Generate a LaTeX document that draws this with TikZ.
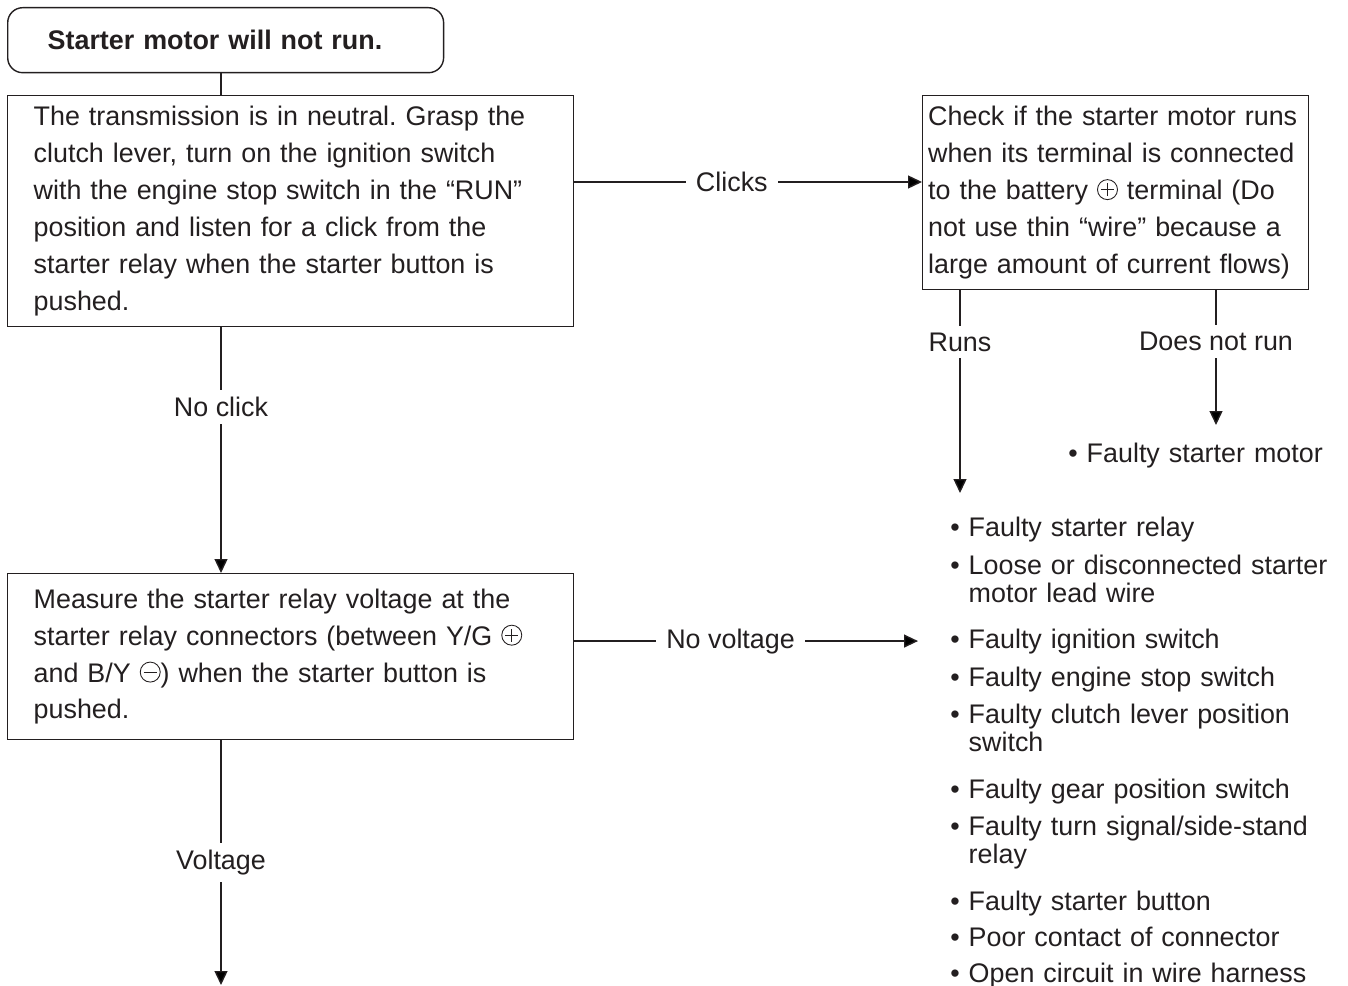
\documentclass[tikz,border=0pt]{standalone}
\usepackage{fontspec}
\setmainfont{Liberation Sans}
\usetikzlibrary{arrows.meta,positioning}
\definecolor{StInk}{HTML}{231F20}
\newcommand{\plusmark}{\tikz[baseline=-0.2cm,line width=0.5pt]{%
  \draw[StInk] (0,0) circle (0.2cm);
  \draw[StInk] (-0.13cm,0) -- (0.13cm,0) (0,-0.13cm) -- (0,0.13cm);}}
\newcommand{\minusmark}{\tikz[baseline=-0.2cm,line width=0.5pt]{%
  \draw[StInk] (0,0) circle (0.2cm);
  \draw[StInk] (-0.13cm,0) -- (0.13cm,0);}}
\frenchspacing
\tikzset{
  chartbox/.style={draw=StInk,text=StInk,line width=0.8pt,anchor=north west,
    align=left,font=\fontsize{15.3}{21}\selectfont},
  lbl/.style={fill=white,text=StInk,inner xsep=0.2cm,inner ysep=0.14cm,
    font=\fontsize{15.3}{21}\selectfont},
  faultitem/.style={anchor=base west,inner sep=0pt,text=StInk,align=left,
    text width=8cm,font=\fontsize{15.3}{16.4}\selectfont},
  flowline/.style={draw=StInk,line width=0.8pt},
  flowarrow/.style={flowline,-{Triangle[length=0.28cm,width=0.26cm]}}
}

\begin{document}
\begin{tikzpicture}[x=0.02cm,y=-0.02cm]
  \useasboundingbox (0,0) rectangle (1348,986);

  % question boxes
  \node[chartbox,rounded corners=0.3cm,minimum width=8.72cm,minimum height=1.3cm,
    inner xsep=0.8cm,text width=7.12cm,font=\fontsize{15.3}{21}\selectfont\bfseries]
    (start) at (7,7) {Starter motor will not run.};
  \node[chartbox,minimum height=4.62cm,inner xsep=0.52cm,text width=10.28cm]
    (click) at (7,95) {The transmission is in neutral. Grasp the\\
    clutch lever, turn on the ignition switch\\
    with the engine stop switch in the “RUN”\\
    position and listen for a click from the\\
    starter relay when the starter button is\\
    pushed.};
  \node[chartbox,minimum height=3.88cm,inner xsep=0.11cm,text width=7.5cm]
    (direct) at (922,95) {Check if the starter motor runs\\
    when its terminal is connected\\
    to the battery \plusmark{} terminal (Do\\
    not use thin “wire” because a\\
    large amount of current flows)};
  \node[chartbox,minimum height=3.32cm,inner xsep=0.52cm,text width=10.28cm]
    (relayv) at (7,573) {Measure the starter relay voltage at the\\
    starter relay connectors (between Y/G \plusmark\\
    and B/Y \minusmark) when the starter button is\\
    pushed.};

  % causes
  \node[faultitem] (motor) at (1068,462) {\textbullet\ Faulty starter motor};
  \node[faultitem] (relay) at (950,536) {\textbullet\ Faulty starter relay};
  \node[faultitem] (lead) at (950,574) {\textbullet\ Loose or disconnected starter\\
    \hphantom{\textbullet\ }motor lead wire};
  \node[faultitem] (ign) at (950,648) {\textbullet\ Faulty ignition switch};
  \node[faultitem] (stop) at (950,686) {\textbullet\ Faulty engine stop switch};
  \node[faultitem] (clutch) at (950,723) {\textbullet\ Faulty clutch lever position\\
    \hphantom{\textbullet\ }switch};
  \node[faultitem] (gear) at (950,798) {\textbullet\ Faulty gear position switch};
  \node[faultitem] (turn) at (950,835) {\textbullet\ Faulty turn signal/side-stand\\
    \hphantom{\textbullet\ }relay};
  \node[faultitem] (button) at (950,910) {\textbullet\ Faulty starter button};
  \node[faultitem] (contact) at (950,946) {\textbullet\ Poor contact of connector};
  \node[faultitem] (harness) at (950,982) {\textbullet\ Open circuit in wire harness};

  % connectors
  \coordinate (spine) at (221,0);
  \coordinate (clk) at (0,182);
  \coordinate (runsend) at (960,493);
  \coordinate (dnrend) at (1216,425);
  \coordinate (vend) at (221,985);
  \draw[flowline] (start.south -| spine) -- (click.north -| spine);
  \draw[flowarrow] (click.east |- clk) -- node[lbl,pos=0.453]{Clicks} (direct.west |- clk);
  \draw[flowarrow] (click.south -| spine) -- node[lbl,pos=0.324]{No click} (relayv.north -| spine);
  \draw[flowarrow] (direct.south -| runsend) -- node[lbl,pos=0.255]{Runs} (runsend);
  \draw[flowarrow] (direct.south -| dnrend) -- node[lbl,pos=0.38]{Does not run} (dnrend);
  \draw[flowarrow,shorten >=0.64cm] (relayv.east |- ign.west) -- node[lbl,pos=0.416]{No voltage} (ign.west);
  \draw[flowarrow] (relayv.south -| spine) -- node[lbl,pos=0.5]{Voltage} (vend);
\end{tikzpicture}
\end{document}
